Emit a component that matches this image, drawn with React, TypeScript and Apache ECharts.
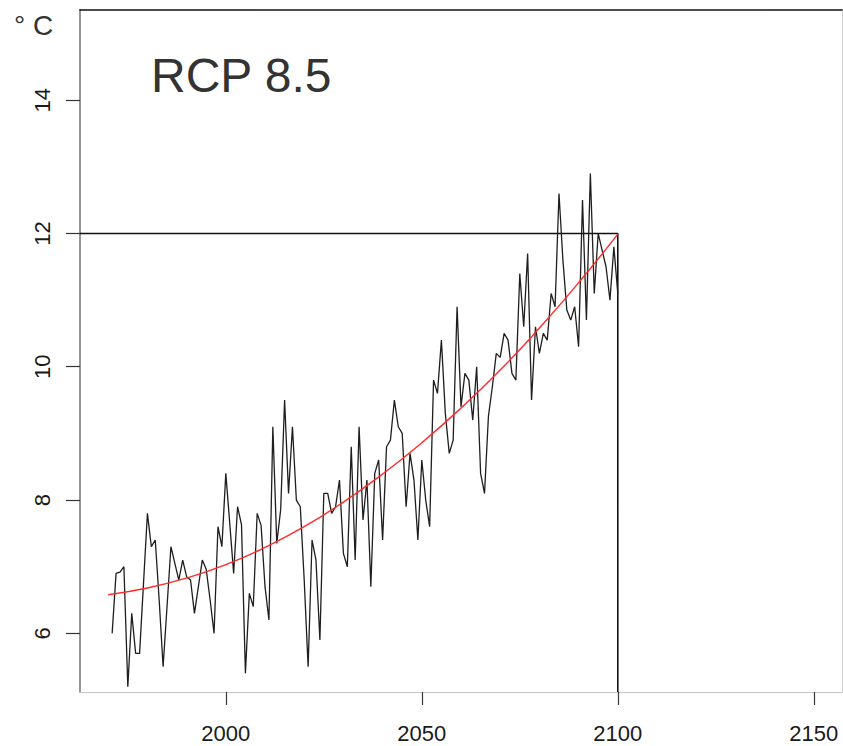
import React, { useEffect, useRef } from "react";
import * as echarts from "echarts";

// Annual mean temperature (°C), one value per year starting at firstYear
const firstYear = 1971;
const temperatures = [
  6.0, 6.9, 6.92, 7.0, 5.2, 6.3, 5.7, 5.7, 6.75, 7.8,
  7.3, 7.4, 6.5, 5.5, 6.4, 7.3, 7.05, 6.8, 7.1, 6.85,
  6.8, 6.3, 6.7, 7.1, 6.96, 6.5, 6.0, 7.6, 7.3, 8.4,
  7.65, 6.9, 7.9, 7.63, 5.4, 6.6, 6.4, 7.8, 7.62, 6.7,
  6.2, 9.1, 7.35, 7.86, 9.5, 8.1, 9.1, 8.0, 7.9, 6.8,
  5.5, 7.4, 7.1, 5.9, 8.1, 8.1, 7.8, 7.9, 8.3, 7.2,
  7.0, 8.8, 7.1, 9.1, 7.7, 8.3, 6.7, 8.4, 8.6, 7.4,
  8.8, 8.9, 9.5, 9.1, 9.0, 7.9, 8.7, 8.3, 7.4, 8.6,
  8.0, 7.6, 9.8, 9.6, 10.4, 9.3, 8.7, 8.9, 10.9, 9.4,
  9.9, 9.8, 9.2, 10.0, 8.4, 8.1, 9.26, 9.7, 10.2, 10.14,
  10.5, 10.4, 9.9, 9.8, 11.4, 10.6, 11.7, 9.5, 10.6, 10.2,
  10.5, 10.4, 11.1, 10.9, 12.6, 11.6, 10.85, 10.7, 10.9, 10.3,
  12.5, 10.7, 12.9, 11.1, 12.0, 11.75, 11.5, 11.0, 11.8, 11.1,
];

// Fitted trend, sampled per decade
const trendYears = [1970, 1980, 1990, 2000, 2010, 2020, 2030, 2040, 2050, 2060, 2070, 2080, 2090, 2100];
const trendValues = [6.58, 6.68, 6.83, 7.03, 7.29, 7.6, 7.97, 8.39, 8.86, 9.38, 9.95, 10.58, 11.26, 11.99];

// Reference level reached at the end of the century
const targetYear = 2100;
const targetValue = 12;

const xTicks = [2000, 2050, 2100, 2150];
const yTicks = [6, 8, 10, 12, 14];

const xMin = 1962.8;
const xMax = 2157.2;
const yMin = 5.12;
const yMax = 15.36;

const FONT = "'Liberation Sans', Arial, Helvetica, sans-serif";

export default function App() {
  const ref = useRef<HTMLDivElement>(null);

  useEffect(() => {
    if (!ref.current) return;
    const chart = echarts.init(ref.current, null, { renderer: "svg" });

    const tempData = temperatures.map((v, i) => [firstYear + i, v]);
    const trendData = trendYears.map((y, i) => [y, trendValues[i]]);
    const guideData = [
      [xMin, targetValue],
      [targetYear, targetValue],
      [targetYear, yMin],
    ];

    chart.setOption({
      animation: false,
      backgroundColor: "#ffffff",
      textStyle: { fontFamily: FONT },
      grid: { left: 80, right: 1, top: 9.5, bottom: 54, containLabel: false },
      xAxis: [
        {
          type: "value",
          position: "bottom",
          min: xMin,
          max: xMax,
          axisLine: { show: true, onZero: false, lineStyle: { color: "#c4c4c4", width: 1 } },
          axisTick: { show: true, customValues: xTicks, length: 13, lineStyle: { color: "#3a3a3a", width: 1.2 } },
          axisLabel: {
            customValues: xTicks,
            margin: 30,
            fontSize: 22,
            color: "#1a1a1a",
            fontFamily: FONT,
            formatter: (v: number) => String(v),
          },
          splitLine: { show: false },
        },
        {
          type: "value",
          position: "top",
          min: xMin,
          max: xMax,
          axisLine: { show: true, onZero: false, lineStyle: { color: "#111111", width: 1.6 } },
          axisTick: { show: false },
          axisLabel: { show: false },
          splitLine: { show: false },
        },
      ],
      yAxis: [
        {
          type: "value",
          position: "left",
          min: yMin,
          max: yMax,
          axisLine: { show: true, onZero: false, lineStyle: { color: "#7a7a7a", width: 1.6 } },
          axisTick: { show: true, customValues: yTicks, length: 14, lineStyle: { color: "#333333", width: 1.2 } },
          axisLabel: {
            customValues: yTicks,
            rotate: 90,
            margin: 27,
            fontSize: 22,
            color: "#1a1a1a",
            fontFamily: FONT,
            formatter: (v: number) => String(v),
          },
          splitLine: { show: false },
        },
        {
          type: "value",
          position: "right",
          min: yMin,
          max: yMax,
          axisLine: { show: true, onZero: false, lineStyle: { color: "#cfcfcf", width: 1 } },
          axisTick: { show: false },
          axisLabel: { show: false },
          splitLine: { show: false },
        },
      ],
      series: [
        {
          type: "line",
          name: "guide",
          data: guideData,
          showSymbol: false,
          silent: true,
          lineStyle: { color: "#111111", width: 1.6 },
          z: 2,
        },
        {
          type: "line",
          name: "temperature",
          data: tempData,
          showSymbol: false,
          lineStyle: { color: "#1e1e1e", width: 1.3 },
          z: 3,
        },
        {
          type: "line",
          name: "trend",
          data: trendData,
          smooth: true,
          showSymbol: false,
          lineStyle: { color: "#ff2a2a", width: 1.4 },
          z: 4,
        },
      ],
      graphic: [
        {
          type: "text",
          left: 151,
          top: 51,
          style: {
            text: "RCP 8.5",
            fontSize: 48,
            fontFamily: FONT,
            fill: "#333333",
          },
        },
        {
          type: "text",
          left: 14,
          top: 11,
          style: {
            text: "° C",
            fontSize: 28,
            fontFamily: FONT,
            fill: "#333333",
          },
        },
      ],
    });

    return () => chart.dispose();
  }, []);

  return (
    <div
      ref={ref}
      style={{ position: "fixed", left: 0, top: 0, width: 843, height: 746, background: "#fff" }}
    />
  );
}
